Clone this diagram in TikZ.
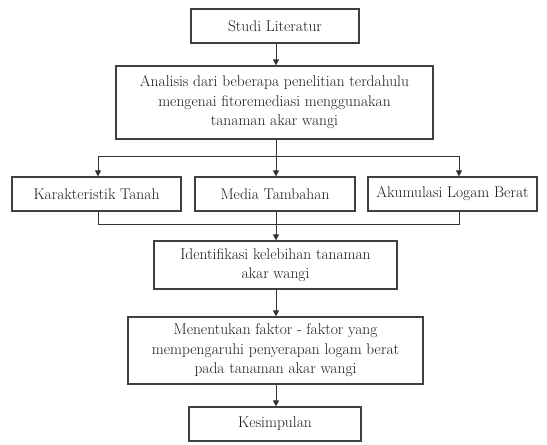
\documentclass[tikz,border=0pt]{standalone}
\usetikzlibrary{arrows.meta}
\begin{document}
\begin{tikzpicture}[x=1pt,y=-1pt,
  box/.style={draw=black!75,line width=1.2pt,rectangle,inner sep=0pt,align=center,
    font=\fontsize{15.5}{19.5}\selectfont,text=black!90},
  conn/.style={draw=black!80,line width=1pt},
  arr/.style={conn,-{Triangle[width=6pt,length=6pt]}}]
\useasboundingbox (0,0) rectangle (547,445);
\node[box,minimum width=168pt,minimum height=34pt] (studi) at (275,26) {Studi Literatur};
\node[box,minimum width=317pt,minimum height=73pt] (anal) at (274.5,102.5)
  {Analisis dari beberapa penelitian terdahulu\\mengenai fitoremediasi menggunakan\\tanaman akar wangi};
\node[box,minimum width=169pt,minimum height=34pt] (k1) at (96.5,194) {Karakteristik Tanah};
\node[box,minimum width=160pt,minimum height=34pt] (k2) at (275,194) {Media Tambahan};
\node[box,minimum width=169pt,minimum height=34pt] (k3) at (452.5,194) {Akumulasi Logam Berat};
\node[box,minimum width=243pt,minimum height=48pt] (ident) at (275.5,265)
  {Identifikasi kelebihan tanaman\\akar wangi};
\node[box,minimum width=295pt,minimum height=67pt] (ment) at (275.5,350.5)
  {Menentukan faktor - faktor yang\\mempengaruhi penyerapan logam berat\\pada tanaman akar wangi};
\node[box,minimum width=172pt,minimum height=34pt] (kes) at (275,424) {Kesimpulan};
\coordinate (t1) at (98,156);
\coordinate (t2) at (276,156);
\coordinate (t3) at (459,156);
\coordinate (b1) at (98,224);
\coordinate (b2) at (276,224);
\coordinate (b3) at (459,224);
\draw[arr] (studi.south -| t2) -- (anal.north -| t2);
\draw[conn] (anal.south -| t2) -- (t2);
\draw[conn] (t1) -- (t3);
\draw[arr] (t1) -- (k1.north -| t1);
\draw[arr] (t2) -- (k2.north -| t2);
\draw[arr] (t3) -- (k3.north -| t3);
\draw[conn] (k1.south -| b1) -- (b1) -- (b3) -- (k3.south -| b3);
\draw[conn] (k2.south -| b2) -- (b2);
\draw[arr] (b2) -- (ident.north -| b2);
\draw[arr] (ident.south -| b2) -- (ment.north -| b2);
\draw[arr] (ment.south -| b2) -- (kes.north -| b2);
\end{tikzpicture}
\end{document}
